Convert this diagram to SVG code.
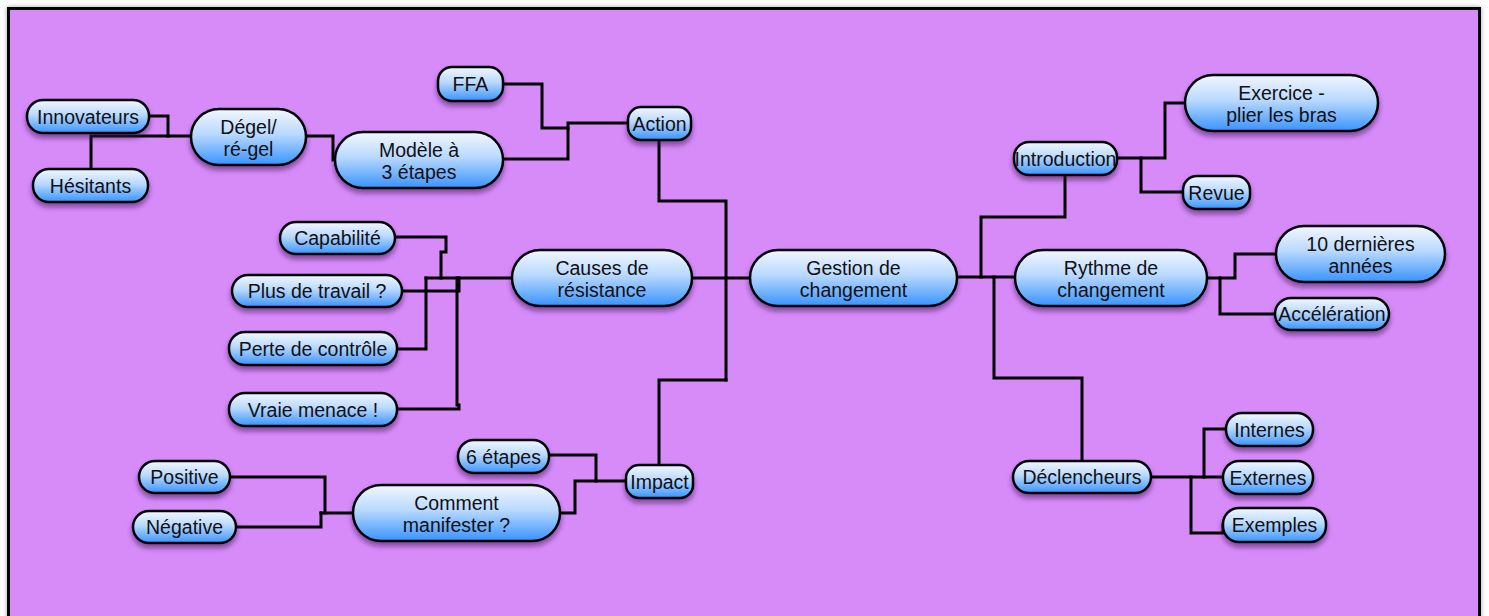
<svg xmlns="http://www.w3.org/2000/svg" width="1489" height="616" viewBox="0 0 1489 616">
  <defs>
    <linearGradient id="nodeFill" x1="0" y1="0" x2="0" y2="1">
      <stop offset="0" stop-color="#F2F7FF"/>
      <stop offset="0.45" stop-color="#B9D9FF"/>
      <stop offset="1" stop-color="#3893FF"/>
    </linearGradient>
    <filter id="nodeShadow" x="-20%" y="-30%" width="140%" height="170%">
      <feDropShadow dx="0" dy="4" stdDeviation="2.5" flood-color="#3a1050" flood-opacity="0.55"/>
    </filter>
    <filter id="frameShadow" x="-2%" y="-5%" width="104%" height="110%">
      <feDropShadow dx="0" dy="0" stdDeviation="2.5" flood-color="#000" flood-opacity="0.35"/>
    </filter>
  </defs>
  <style>
    .node rect { fill: url(#nodeFill); stroke: #000; stroke-width: 2.5; filter: url(#nodeShadow); }
    .node text { font-family: "Liberation Sans", Arial, sans-serif; font-size: 19.5px; fill: #111; text-anchor: middle; }
    #connectors polyline { fill: none; stroke: #000; stroke-width: 3; stroke-linejoin: miter; stroke-linecap: square; }
  </style>

  <!-- canvas -->
  <rect width="1489" height="616" fill="#fff"/>
  <rect x="8.5" y="8.5" width="1471" height="700" fill="#D68BF9" stroke="#000" stroke-width="3" filter="url(#frameShadow)"/>

  <g id="connectors">
    <!-- left branch: Action -->
    <polyline points="149,116 168,116 168,136"/>
    <polyline points="91,169 91,136 191,136"/>
    <polyline points="306,136 333,136 333,160 335,160"/>
    <polyline points="503,159 568,159 568,123 628,123"/>
    <polyline points="503,84 542,84 542,128 568,128"/>
    <polyline points="659,140 659,201 726,201 726,380"/>
    <!-- left branch: Causes de résistance -->
    <polyline points="692,278 750,278"/>
    <polyline points="426,278 512,278"/>
    <polyline points="395,237 446,237 446,252 441,252 441,278"/>
    <polyline points="402,291 459,291 459,278"/>
    <polyline points="397,349 426,349 426,278"/>
    <polyline points="397,409 459,409 459,405 457,405 457,278"/>
    <!-- left branch: Impact -->
    <polyline points="726,380 659,380 659,465"/>
    <polyline points="626,481 575,481 575,513 560,513"/>
    <polyline points="549,455 596,455 596,481"/>
    <polyline points="353,513 321,513"/>
    <polyline points="230,477 325,477 325,513"/>
    <polyline points="236,527 321,527 321,513"/>
    <!-- right branches -->
    <polyline points="957,277 1015,277"/>
    <polyline points="981,277 981,217 1065,217 1065,175"/>
    <polyline points="994,277 994,378 1082,378 1082,461"/>
    <polyline points="1117,158 1165,158 1165,103 1185,103"/>
    <polyline points="1141,158 1141,192 1183,192"/>
    <polyline points="1207,278 1235,278 1235,254 1276,254"/>
    <polyline points="1220,278 1220,314 1275,314"/>
    <polyline points="1151,477 1223,477"/>
    <polyline points="1204,477 1204,429 1226,429"/>
    <polyline points="1191,477 1191,533 1223,533 1223,525"/>
  </g>

  <!-- central topic -->
  <g id="gestion" class="node">
    <rect x="750" y="250" width="207" height="56" rx="28"/>
    <text x="853.5" y="275">Gestion de</text>
    <text x="853.5" y="297">changement</text>
  </g>

  <!-- Action branch -->
  <g id="action" class="node">
    <rect x="628" y="107" width="63" height="33" rx="13"/>
    <text x="659.5" y="130.5">Action</text>
  </g>
  <g id="ffa" class="node">
    <rect x="438" y="67" width="65" height="34" rx="14"/>
    <text x="470.5" y="91">FFA</text>
  </g>
  <g id="modele" class="node">
    <rect x="335" y="132" width="168" height="56" rx="28"/>
    <text x="419" y="157">Modèle à</text>
    <text x="419" y="179">3 étapes</text>
  </g>
  <g id="degel" class="node">
    <rect x="191" y="109" width="115" height="56" rx="28"/>
    <text x="248.5" y="134">Dégel/</text>
    <text x="248.5" y="156">ré-gel</text>
  </g>
  <g id="innovateurs" class="node">
    <rect x="27" y="100" width="122" height="33" rx="16"/>
    <text x="88" y="123.5">Innovateurs</text>
  </g>
  <g id="hesitants" class="node">
    <rect x="33" y="169" width="115" height="33" rx="16"/>
    <text x="90.5" y="192.5">Hésitants</text>
  </g>

  <!-- Causes branch -->
  <g id="causes" class="node">
    <rect x="512" y="250" width="180" height="56" rx="28"/>
    <text x="602" y="275">Causes de</text>
    <text x="602" y="297">résistance</text>
  </g>
  <g id="capabilite" class="node">
    <rect x="280" y="222" width="115" height="32" rx="16"/>
    <text x="337.5" y="245">Capabilité</text>
  </g>
  <g id="plus-travail" class="node">
    <rect x="232" y="275" width="170" height="32" rx="16"/>
    <text x="317" y="298">Plus de travail ?</text>
  </g>
  <g id="perte-controle" class="node">
    <rect x="229" y="332" width="168" height="33" rx="16"/>
    <text x="313" y="355.5">Perte de contrôle</text>
  </g>
  <g id="vraie-menace" class="node">
    <rect x="229" y="393" width="168" height="33" rx="16"/>
    <text x="313" y="416.5">Vraie menace !</text>
  </g>

  <!-- Impact branch -->
  <g id="impact" class="node">
    <rect x="626" y="465" width="67" height="33" rx="13"/>
    <text x="659.5" y="488.5">Impact</text>
  </g>
  <g id="six-etapes" class="node">
    <rect x="458" y="440" width="91" height="33" rx="16"/>
    <text x="503.5" y="463.5">6 étapes</text>
  </g>
  <g id="comment" class="node">
    <rect x="353" y="485" width="207" height="56" rx="28"/>
    <text x="456.5" y="510">Comment</text>
    <text x="456.5" y="532">manifester ?</text>
  </g>
  <g id="positive" class="node">
    <rect x="139" y="461" width="91" height="32" rx="16"/>
    <text x="184.5" y="484">Positive</text>
  </g>
  <g id="negative" class="node">
    <rect x="133" y="511" width="103" height="32" rx="16"/>
    <text x="184.5" y="534">Négative</text>
  </g>

  <!-- Introduction branch -->
  <g id="introduction" class="node">
    <rect x="1014" y="142" width="103" height="33" rx="15"/>
    <text x="1065.5" y="165.5">Introduction</text>
  </g>
  <g id="exercice" class="node">
    <rect x="1185" y="75" width="193" height="56" rx="28"/>
    <text x="1281.5" y="100">Exercice -</text>
    <text x="1281.5" y="122">plier les bras</text>
  </g>
  <g id="revue" class="node">
    <rect x="1183" y="176" width="67" height="33" rx="14"/>
    <text x="1216.5" y="199.5">Revue</text>
  </g>

  <!-- Rythme branch -->
  <g id="rythme" class="node">
    <rect x="1015" y="250" width="192" height="56" rx="28"/>
    <text x="1111" y="275">Rythme de</text>
    <text x="1111" y="297">changement</text>
  </g>
  <g id="dix-annees" class="node">
    <rect x="1276" y="226" width="169" height="56" rx="28"/>
    <text x="1360.5" y="251">10 dernières</text>
    <text x="1360.5" y="273">années</text>
  </g>
  <g id="acceleration" class="node">
    <rect x="1275" y="298" width="114" height="32" rx="16"/>
    <text x="1332" y="321">Accélération</text>
  </g>

  <!-- Déclencheurs branch -->
  <g id="declencheurs" class="node">
    <rect x="1013" y="461" width="138" height="32" rx="16"/>
    <text x="1082" y="484">Déclencheurs</text>
  </g>
  <g id="internes" class="node">
    <rect x="1226" y="413" width="87" height="33" rx="16"/>
    <text x="1269.5" y="436.5">Internes</text>
  </g>
  <g id="externes" class="node">
    <rect x="1223" y="461" width="90" height="33" rx="16"/>
    <text x="1268" y="484.5">Externes</text>
  </g>
  <g id="exemples" class="node">
    <rect x="1223" y="508" width="103" height="34" rx="16"/>
    <text x="1274.5" y="532">Exemples</text>
  </g>
</svg>
